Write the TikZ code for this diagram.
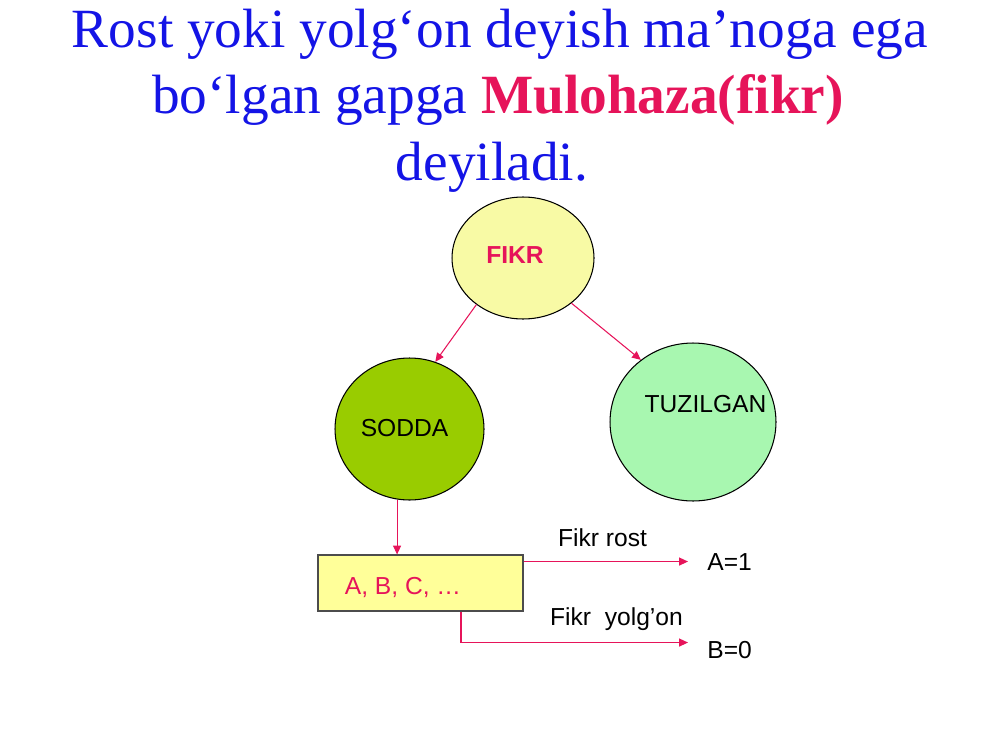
\documentclass[tikz,border=0pt]{standalone}
\usepackage{fontspec}
\setmainfont{Liberation Serif}
\setsansfont{Liberation Sans}
\usetikzlibrary{arrows.meta,shapes.geometric}
\definecolor{titleblue}{RGB}{20,20,230}
\definecolor{fikrred}{RGB}{230,20,90}
\definecolor{fikrfill}{RGB}{248,250,165}
\definecolor{soddafill}{RGB}{153,204,0}
\definecolor{tuzfill}{RGB}{168,247,176}
\definecolor{boxfill}{RGB}{255,255,153}

\begin{document}
\begin{tikzpicture}[x=0.02cm,y=-0.02cm,
  title/.style={anchor=base,inner sep=0,font=\fontsize{31.5}{38}\selectfont,text=titleblue},
  oval/.style={ellipse,draw=black,line width=0.6pt,inner sep=0},
  lbl/.style={anchor=base,inner sep=0,font=\sffamily\fontsize{14}{17}\selectfont},
  res/.style={lbl,anchor=base west,inner xsep=0.38cm},
  link/.style={draw=fikrred,line width=0.6pt,-{Triangle[length=5pt,width=4.5pt]}}]
\useasboundingbox (0,0) rectangle (1000,750);

\node[title] (t1) at (500,48) {Rost yoki yolg‘on deyish ma’noga ega};
\node[title] (t2) at (498,113) {bo‘lgan gapga \textcolor{fikrred}{\textbf{Mulohaza(fikr)}}};
\node[title] (t3) at (492,180) {deyiladi.};

\node[oval,fill=fikrfill,minimum width=2.84cm,minimum height=2.44cm] (fikr) at (523,258) {};
\node[oval,fill=soddafill,minimum width=2.98cm,minimum height=2.84cm] (sodda) at (409.5,429) {};
\node[oval,fill=tuzfill,minimum width=3.32cm,minimum height=3.16cm] (tuz) at (693,422) {};
\node[draw=black!70,fill=boxfill,line width=0.6pt,minimum width=4.1cm,minimum height=1.12cm,inner sep=0] (abc) at (420.5,583) {};

\node[lbl,font=\sffamily\bfseries\fontsize{14}{17}\selectfont,text=fikrred] (fikrtxt) at (515,263) {FIKR};
\node[lbl] (soddatxt) at (404.5,436) {SODDA};
\node[lbl] (tuztxt) at (705.5,412) {TUZILGAN};
\node[lbl,text=fikrred] (abctxt) at (403,594) {A, B, C, …};
\node[lbl] (rost) at (602.5,546) {Fikr rost};
\node[lbl] (yolg) at (616.5,625) {Fikr\ \ yolg’on};
\node[res] (a1) at (688,570) {A=1};
\node[res] (b0) at (688,658) {B=0};

\draw[link] (fikr.225) -- (sodda.69);
\draw[link] (fikr.317) -- (tuz.130);
\draw[link] (sodda.260) -- (sodda.260 |- abc.north);
\draw[link] (abc.east |- a1.west) -- (a1.west);
\draw[link] ([xshift=0.81cm]abc.south) |- ([yshift=0.14cm]b0.west);
\end{tikzpicture}
\end{document}
